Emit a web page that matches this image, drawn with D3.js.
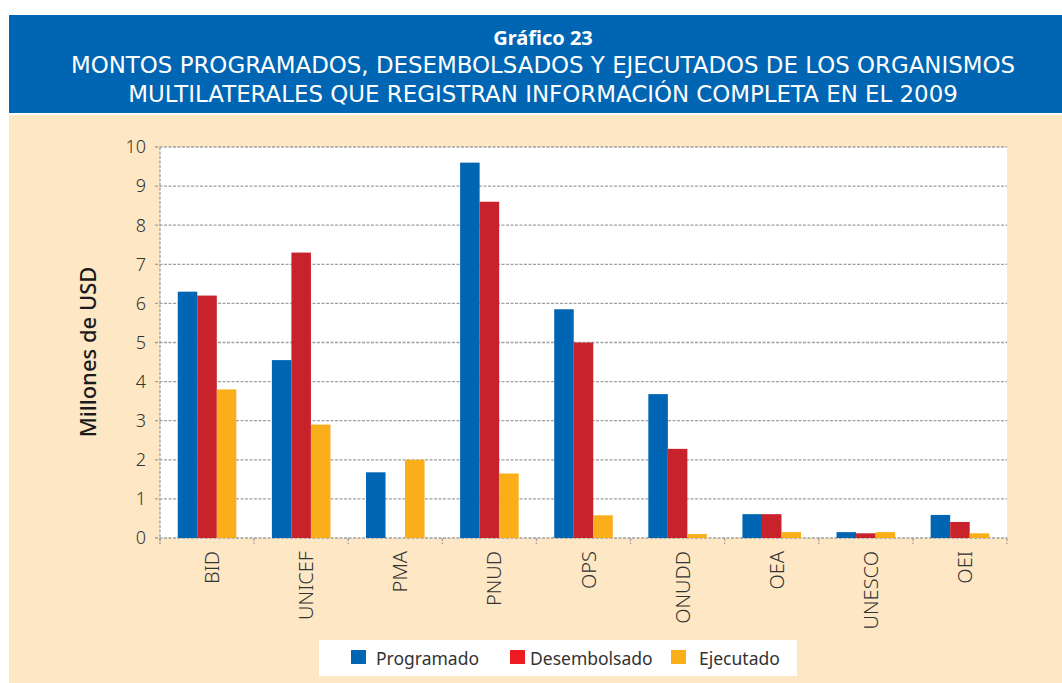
<!DOCTYPE html>
<html>
<head>
<meta charset="utf-8">
<script src="https://cdn.jsdelivr.net/npm/d3@7"></script>
<style>
  html, body { margin: 0; padding: 0; background: #ffffff; }
  svg { display: block; }
</style>
</head>
<body>
<svg id="chart" width="1062" height="683"></svg>
<script>
const categories = ["BID", "UNICEF", "PMA", "PNUD", "OPS", "ONUDD", "OEA", "UNESCO", "OEI"];
const seriesNames = ["Programado", "Desembolsado", "Ejecutado"];
const programado   = [6.3, 4.55, 1.68, 9.6, 5.85, 3.68, 0.61, 0.15, 0.59];
const desembolsado = [6.2, 7.3, 0, 8.6, 5.0, 2.28, 0.61, 0.12, 0.41];
const ejecutado    = [3.8, 2.9, 2.0, 1.65, 0.58, 0.1, 0.15, 0.15, 0.12];
const yTicks = [0, 1, 2, 3, 4, 5, 6, 7, 8, 9, 10];
const titleLines = ["Gráfico 23",
  "MONTOS PROGRAMADOS, DESEMBOLSADOS Y EJECUTADOS DE LOS ORGANISMOS",
  "MULTILATERALES QUE REGISTRAN INFORMACIÓN COMPLETA EN EL 2009"];
const yTitle = "Millones de USD";

const barColors = ["#0066b3", "#c8232c", "#f9ae1a"];
const legendColors = ["#0066b3", "#ed1c24", "#f9ae1a"];
const FONT = "'Noto Sans', sans-serif";
const TITLE_FONT = "'DejaVu Sans', sans-serif";

const svg = d3.select("#chart");

// backgrounds
svg.append("rect").attr("x", 9).attr("y", 15).attr("width", 1053).attr("height", 98).attr("fill", "#0066b3");
svg.append("rect").attr("x", 9).attr("y", 115).attr("width", 1053).attr("height", 568).attr("fill", "#fde7c5");

// title
const titleY = [45, 73, 102];
titleLines.forEach((t, i) => {
  svg.append("text")
    .attr("x", 543).attr("y", titleY[i])
    .attr("text-anchor", "middle")
    .attr("fill", "#ffffff")
    .attr("font-family", i === 0 ? FONT : TITLE_FONT)
    .attr("font-weight", i === 0 ? 700 : 400)
    .attr("font-size", i === 0 ? 20 : 22.9)
    .text(t);
});

const plot = { left: 160, right: 1007, top: 147, bottom: 538 };

const x0 = d3.scaleBand().domain(categories).range([plot.left, plot.right]).padding(0);
const x1 = d3.scaleBand().domain(seriesNames).range([0, x0.bandwidth()]).paddingInner(0).paddingOuter(0.91);
const y = d3.scaleLinear().domain([0, 10]).range([plot.bottom, plot.top]);

// plot area
svg.append("rect").attr("x", plot.left).attr("y", plot.top)
  .attr("width", plot.right - plot.left).attr("height", plot.bottom - plot.top)
  .attr("fill", "#ffffff");

const gridStyle = sel => sel.attr("stroke", "#a0a0a0").attr("stroke-width", 1.3).attr("stroke-dasharray", "3,1.5");

// horizontal gridlines + y ticks
svg.append("g").selectAll("line").data(yTicks).join("line")
  .attr("x1", plot.left - 5).attr("x2", plot.right)
  .attr("y1", d => y(d)).attr("y2", d => y(d))
  .call(gridStyle);

// left axis line
svg.append("line").attr("x1", plot.left).attr("x2", plot.left)
  .attr("y1", plot.top).attr("y2", plot.bottom + 6).call(gridStyle);

// bottom category tick marks
const boundaries = categories.map(c => x0(c) + x0.bandwidth()).concat([plot.left]);
svg.append("g").selectAll("line").data(boundaries).join("line")
  .attr("x1", d => d).attr("x2", d => d)
  .attr("y1", plot.bottom).attr("y2", plot.bottom + 6)
  .call(gridStyle);

// bars
const seriesData = [programado, desembolsado, ejecutado];
const barsG = svg.append("g");
seriesNames.forEach((s, si) => {
  barsG.append("g").selectAll("rect").data(categories).join("rect")
    .attr("x", c => x0(c) + x1(s))
    .attr("width", x1.bandwidth())
    .attr("y", (c, i) => y(seriesData[si][i]))
    .attr("height", (c, i) => y(0) - y(seriesData[si][i]))
    .attr("fill", barColors[si]);
});

// y tick labels
svg.append("g").selectAll("text").data(yTicks).join("text")
  .attr("x", 146).attr("y", d => y(d))
  .attr("dy", "0.35em")
  .attr("text-anchor", "end")
  .attr("fill", "#333333")
  .attr("font-family", FONT)
  .attr("font-weight", 300)
  .attr("font-size", 18)
  .text(d => d);

// y title
svg.append("text")
  .attr("transform", `translate(96,352) rotate(-90)`)
  .attr("text-anchor", "middle")
  .attr("fill", "#1a1a1a")
  .attr("font-family", FONT)
  .attr("font-weight", 500)
  .attr("font-size", 22)
  .text(yTitle);

// x labels
svg.append("g").selectAll("text").data(categories).join("text")
  .attr("transform", c => `translate(${x0(c) + x0.bandwidth() / 2 + 5},551) rotate(-90)`)
  .attr("dy", "0.35em")
  .attr("text-anchor", "end")
  .attr("fill", "#333333")
  .attr("font-family", FONT)
  .attr("font-weight", 300)
  .attr("font-size", 20)
  .text(c => c);

// legend
svg.append("rect").attr("x", 319).attr("y", 640).attr("width", 478).attr("height", 36).attr("fill", "#ffffff");
const legendX = [351, 510, 671];
const legendTextX = [376, 530, 699];
seriesNames.forEach((s, i) => {
  svg.append("rect").attr("x", legendX[i]).attr("y", 650).attr("width", 15).attr("height", 14).attr("fill", legendColors[i]);
  svg.append("text").attr("x", legendTextX[i]).attr("y", 665)
    .attr("fill", "#333333")
    .attr("font-family", FONT)
    .attr("font-size", 17.5)
    .text(s);
});
</script>
</body>
</html>
